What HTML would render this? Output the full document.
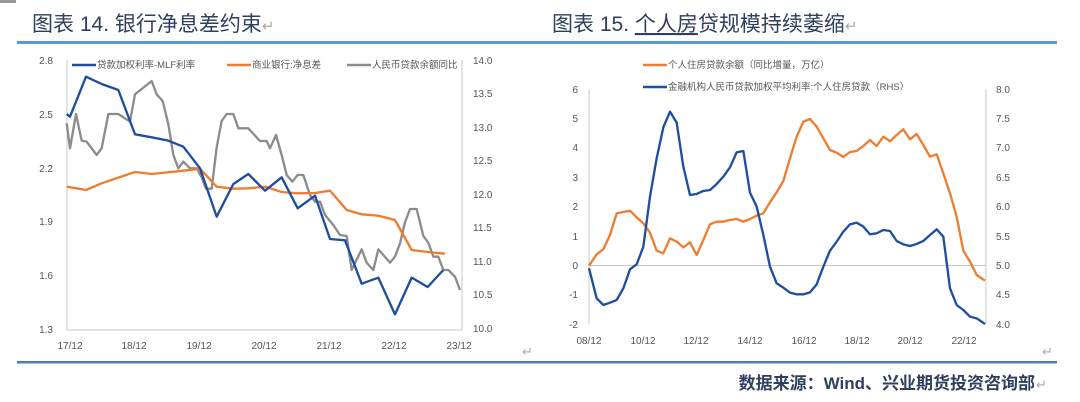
<!DOCTYPE html>
<html><head><meta charset="utf-8"><style>
html,body{margin:0;padding:0;background:#fff;}
svg{display:block;font-family:"Liberation Sans","Noto Sans CJK SC",sans-serif;}
</style></head><body>
<svg width="1080" height="402" viewBox="0 0 1080 402" xmlns="http://www.w3.org/2000/svg">
<rect x="0" y="0" width="16" height="3" fill="#999"/>
<text x="32" y="31" font-size="21" fill="#2f3f5e">图表 14. 银行净息差约束<tspan fill="#aaa" font-size="15">↵</tspan></text>
<text x="552" y="31" font-size="21" fill="#2f3f5e">图表 15. <tspan text-decoration="underline">个人房</tspan>贷规模持续萎缩<tspan fill="#aaa" font-size="15">↵</tspan></text>
<rect x="17" y="41" width="1040" height="3" fill="#5b9bd5"/>
<rect x="17" y="361" width="1040" height="2.5" fill="#4a7ebb"/>
<text x="1035" y="389" font-size="17" font-weight="bold" fill="#2f3f5e" text-anchor="end">数据来源：Wind、兴业期货投资咨询部</text>
<text x="1036" y="389" font-size="13" fill="#aaa">↵</text>

<!-- LEFT CHART -->
<g font-size="10" fill="#555">
<line x1="67" y1="60" x2="67" y2="330" stroke="#c8c8c8"/>
<line x1="67" y1="330" x2="462" y2="330" stroke="#c8c8c8"/>
<line x1="462" y1="60" x2="462" y2="330" stroke="#c8c8c8"/>
<g text-anchor="end">
<text x="53" y="64">2.8</text><text x="53" y="118">2.5</text><text x="53" y="172">2.2</text><text x="53" y="225">1.9</text><text x="53" y="279">1.6</text><text x="53" y="333">1.3</text>
</g>
<g>
<text x="473" y="64">14.0</text><text x="473" y="97">13.5</text><text x="473" y="131">13.0</text><text x="473" y="164">12.5</text><text x="473" y="198">12.0</text><text x="473" y="231">11.5</text><text x="473" y="265">11.0</text><text x="473" y="298">10.5</text><text x="473" y="332">10.0</text>
</g>
<g text-anchor="middle">
<text x="70" y="349">17/12</text><text x="134" y="349">18/12</text><text x="199" y="349">19/12</text><text x="264" y="349">20/12</text><text x="329" y="349">21/12</text><text x="394" y="349">22/12</text><text x="459" y="349">23/12</text>
</g>
<text x="522" y="356" fill="#aaa" font-size="13">↵</text>
<line x1="72" y1="65" x2="96" y2="65" stroke="#1f4e9f" stroke-width="2.5"/>
<text x="97" y="68" font-size="9.5">贷款加权利率-MLF利率</text>
<line x1="227" y1="65" x2="251" y2="65" stroke="#ed7d31" stroke-width="2.5"/>
<text x="252" y="68" font-size="9.5">商业银行:净息差</text>
<line x1="347" y1="65" x2="371" y2="65" stroke="#8c8c8c" stroke-width="2.5"/>
<text x="372" y="68" font-size="9.5">人民币贷款余额同比</text>
</g>
<g transform="translate(0,40) scale(0.33333)" fill="none" stroke-width="7" stroke-linejoin="round">
<polyline stroke="#8c8c8c" points="200,250 210,325 228,222 245,302 260,305 290,345 305,325 325,222 355,222 390,245 405,163 455,123 470,163 488,183 505,253 520,345 535,385 550,365 570,385 590,385 605,412 618,446 635,446 650,322 665,243 680,222 700,222 715,265 745,265 780,303 800,303 810,325 828,285 845,345 860,405 877,425 893,405 910,405 930,465 945,485 960,485 975,525 1000,555 1020,585 1040,588 1055,690 1085,628 1100,668 1120,690 1135,628 1170,668 1185,650 1200,610 1215,547 1230,507 1250,507 1270,588 1285,608 1300,650 1315,650 1330,690 1345,690 1365,710 1380,750"/>
<polyline stroke="#ed7d31" points="200,440 258,450 305,430 405,396 455,402 550,392 600,386 650,440 700,446 745,445 795,440 845,456 893,460 945,459 990,452 1040,510 1085,523 1135,527 1185,540 1235,630 1283,636 1335,641"/>
<polyline stroke="#1f4e9f" points="200,222 210,230 258,110 305,132 355,150 405,283 455,292 505,302 550,320 600,385 650,530 700,432 745,402 795,452 845,412 893,505 945,467 990,597 1035,601 1085,731 1135,713 1185,823 1235,713 1283,741 1330,690"/>
</g>

<!-- RIGHT CHART -->
<g font-size="10" fill="#555">
<line x1="589" y1="89" x2="589" y2="324" stroke="#c8c8c8"/>
<line x1="986" y1="89" x2="986" y2="324" stroke="#c8c8c8"/>
<line x1="589" y1="265.5" x2="986" y2="265.5" stroke="#c8c8c8"/>
<g text-anchor="end">
<text x="578" y="93">6</text><text x="578" y="122">5</text><text x="578" y="151">4</text><text x="578" y="181">3</text><text x="578" y="210">2</text><text x="578" y="240">1</text><text x="578" y="269">0</text><text x="578" y="298">-1</text><text x="578" y="328">-2</text>
</g>
<g>
<text x="996" y="93">8.0</text><text x="996" y="122">7.5</text><text x="996" y="151">7.0</text><text x="996" y="181">6.5</text><text x="996" y="210">6.0</text><text x="996" y="240">5.5</text><text x="996" y="269">5.0</text><text x="996" y="298">4.5</text><text x="996" y="328">4.0</text>
</g>
<g text-anchor="middle">
<text x="589" y="344">08/12</text><text x="643" y="344">10/12</text><text x="696" y="344">12/12</text><text x="750" y="344">14/12</text><text x="804" y="344">16/12</text><text x="857" y="344">18/12</text><text x="910" y="344">20/12</text><text x="964" y="344">22/12</text>
</g>
<text x="1042" y="356" fill="#aaa" font-size="13">↵</text>
<line x1="643" y1="65" x2="667" y2="65" stroke="#ed7d31" stroke-width="2.5"/>
<text x="668" y="68" font-size="9.5">个人住房贷款余额（同比增量，万亿）</text>
<line x1="643" y1="87" x2="667" y2="87" stroke="#1f4e9f" stroke-width="2.5"/>
<text x="668" y="90" font-size="9.5">金融机构人民币贷款加权平均利率:个人住房贷款（RHS）</text>
</g>
<g transform="translate(540,40) scale(0.33333)" fill="none" stroke-width="7" stroke-linejoin="round">
<polyline stroke="#ed7d31" points="147,677 170,643 190,628 210,585 230,520 270,512 290,532 310,550 330,578 350,632 370,640 390,595 410,605 430,622 450,607 470,645 490,600 510,553 530,545 550,545 570,540 590,537 610,545 630,537 650,527 670,520 690,487 710,457 730,423 750,355 770,290 790,245 810,237 830,260 850,295 870,330 890,338 910,351 930,336 950,333 970,318 990,300 1010,318 1030,290 1050,304 1070,285 1090,268 1110,298 1130,282 1150,315 1170,350 1190,343 1210,400 1230,460 1250,530 1270,632 1290,665 1310,705 1335,722"/>
<polyline stroke="#1f4e9f" points="147,685 170,775 190,795 210,788 230,780 250,745 270,688 290,673 310,620 330,470 350,355 370,262 390,215 410,248 430,380 450,465 470,462 490,453 510,450 530,432 550,410 570,382 590,337 610,333 630,458 650,500 670,585 690,680 710,730 730,743 750,758 770,763 790,763 810,757 830,733 850,680 870,632 890,605 910,575 930,553 950,548 970,560 990,583 1010,580 1030,570 1050,573 1070,603 1090,613 1110,618 1130,612 1150,603 1170,585 1190,568 1210,590 1230,745 1250,795 1270,810 1290,830 1310,835 1335,852"/>
</g>
</svg>
</body></html>
